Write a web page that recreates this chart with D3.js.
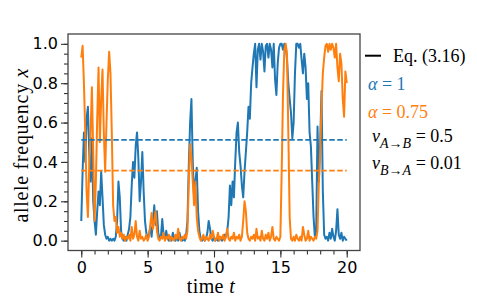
<!DOCTYPE html>
<html>
<head>
<meta charset="utf-8">
<script src="https://cdn.jsdelivr.net/npm/d3@7"></script>
<style>
  body { margin: 0; background: #fff; }
</style>
</head>
<body>
<svg id="chart" width="477" height="300"></svg>
<script>
// time grid step of the sampled trajectories
const dt = 0.1;

// alpha = 1 trajectory (one value every 0.1)
const blueSeries = [
  0.10, 0.35, 0.55, 0.40, 0.62, 0.68, 0.45, 0.30, 0.52, 0.20,
  0.10, 0.03, 0.15, 0.25, 0.18, 0.35, 0.22, 0.08, 0.03, 0.01,
  0.02, 0.00, 0.01, 0.00, 0.01, 0.00, 0.02, 0.10, 0.30, 0.22,
  0.05, 0.01, 0.00, 0.02, 0.00, 0.03, 0.06, 0.12, 0.28, 0.40,
  0.32, 0.48, 0.55, 0.42, 0.20, 0.30, 0.45, 0.25, 0.10, 0.04,
  0.01, 0.03, 0.07, 0.02, 0.10, 0.18, 0.08, 0.15, 0.04, 0.01,
  0.02, 0.11, 0.03, 0.01, 0.05, 0.01, 0.00, 0.02, 0.00, 0.04,
  0.01, 0.00, 0.02, 0.00, 0.04, 0.01, 0.00, 0.01, 0.00, 0.03,
  0.10, 0.38, 0.60, 0.72, 0.40, 0.22, 0.30, 0.37, 0.15, 0.05,
  0.01, 0.00, 0.02, 0.00, 0.01, 0.04, 0.10, 0.06, 0.01, 0.00,
  0.02, 0.00, 0.01, 0.00, 0.02, 0.01, 0.00, 0.01, 0.03, 0.02,
  0.05, 0.12, 0.28, 0.18, 0.30, 0.22, 0.40, 0.55, 0.60, 0.45,
  0.38, 0.28, 0.22, 0.35, 0.45, 0.55, 0.68, 0.62, 0.80, 0.88,
  0.95, 1.00, 0.78, 0.97, 1.00, 0.92, 1.00, 0.96, 0.86, 0.99,
  1.00, 0.93, 1.00, 0.97, 0.88, 1.00, 0.82, 0.74, 0.90, 0.98,
  1.00, 1.00, 0.97, 1.00, 0.99, 0.92, 0.80, 0.72, 0.65, 0.52,
  0.60, 0.85, 1.00, 1.00, 0.98, 1.00, 0.92, 0.85, 0.95, 0.88,
  0.72, 0.80, 0.55, 0.48, 0.30, 0.12, 0.02, 0.05, 0.58, 0.30,
  0.50, 0.76, 0.25, 0.03, 0.01, 0.02, 0.00, 0.04, 0.01, 0.06,
  0.02, 0.00, 0.05, 0.16, 0.03, 0.01, 0.04, 0.00, 0.02, 0.01,
  0.00
];

// alpha = 0.75 trajectory
const orangeSeries = [
  0.93, 0.99, 0.80, 0.55, 0.25, 0.12, 0.38, 0.55, 0.78, 0.45,
  0.10, 0.30, 0.62, 0.88, 0.50, 0.72, 0.87, 0.55, 0.35, 0.60,
  0.82, 0.96, 0.85, 0.55, 0.18, 0.10, 0.12, 0.04, 0.07, 0.02,
  0.04, 0.01, 0.03, 0.00, 0.02, 0.01, 0.03, 0.00, 0.07, 0.01,
  0.03, 0.10, 0.02, 0.00, 0.05, 0.01, 0.02, 0.00, 0.01, 0.03,
  0.00, 0.02, 0.08, 0.14, 0.06, 0.10, 0.15, 0.05, 0.01, 0.00,
  0.02, 0.01, 0.04, 0.00, 0.02, 0.01, 0.03, 0.00, 0.02, 0.01,
  0.00, 0.03, 0.01, 0.06, 0.01, 0.00, 0.02, 0.01, 0.03, 0.01,
  0.05, 0.30, 0.49, 0.42, 0.30, 0.18, 0.30, 0.12, 0.05, 0.02,
  0.00, 0.01, 0.03, 0.00, 0.02, 0.01, 0.00, 0.03, 0.01, 0.05,
  0.02, 0.00, 0.01, 0.04, 0.00, 0.02, 0.01, 0.03, 0.00, 0.02,
  0.06, 0.01, 0.00, 0.02, 0.01, 0.04, 0.00, 0.02, 0.01, 0.03,
  0.00, 0.02, 0.10, 0.20, 0.15, 0.04, 0.01, 0.00, 0.02, 0.01,
  0.03, 0.00, 0.06, 0.01, 0.02, 0.00, 0.05, 0.01, 0.00, 0.03,
  0.01, 0.04, 0.00, 0.02, 0.07, 0.01, 0.00, 0.02, 0.01, 0.00,
  0.02, 0.35, 0.75, 0.97, 1.00, 0.95, 0.55, 0.12, 0.01, 0.00,
  0.02, 0.00, 0.03, 0.01, 0.00, 0.02, 0.00, 0.07, 0.03, 0.00,
  0.01, 0.05, 0.00, 0.02, 0.01, 0.00, 0.02, 0.01, 0.05, 0.30,
  0.45, 0.68, 0.85, 0.93, 0.99, 1.00, 0.96, 1.00, 0.97, 1.00,
  0.98, 0.93, 1.00, 0.88, 0.81, 0.95, 0.90, 0.72, 0.63, 0.86,
  0.80
];

// Eq. (3.16) stationary values
const blueMean = 0.512;
const orangeMean = 0.356;

const xTicks = [0, 5, 10, 15, 20];
const yTicks = [0.0, 0.2, 0.4, 0.6, 0.8, 1.0];

const blue = "#1f77b4";
const orange = "#ff7f0e";

var svg = d3.select("#chart");
var plotL = 68, plotR = 360, plotT = 34, plotB = 250.5;

var x = d3.scaleLinear().domain([-1, 21]).range([plotL, plotR]);
var y = d3.scaleLinear().domain([-0.05, 1.05]).range([plotB, plotT]);

const times = blueSeries.map((_, i) => i * dt);

var line = d3.line()
    .x((d, i) => x(times[i]))
    .y(d => y(d));

// trajectories
svg.append("path")
    .datum(blueSeries)
    .attr("d", line)
    .style("fill", "none")
    .style("stroke", blue)
    .style("stroke-width", 2)
    .style("stroke-linejoin", "round");

svg.append("path")
    .datum(orangeSeries)
    .attr("d", line)
    .style("fill", "none")
    .style("stroke", orange)
    .style("stroke-width", 2)
    .style("stroke-linejoin", "round");

// dashed stationary levels
[[blueMean, blue], [orangeMean, orange]].forEach(function(m) {
    svg.append("line")
        .attr("x1", x(0))
        .attr("x2", x(20))
        .attr("y1", y(m[0]))
        .attr("y2", y(m[0]))
        .style("stroke", m[1])
        .style("stroke-width", 1.6)
        .style("stroke-dasharray", "5.5,2.5");
});

// axes
var xAxis = d3.axisBottom(x).tickValues(xTicks).tickSize(7).tickPadding(4).tickFormat(d3.format("d"));
var xMinor = d3.axisBottom(x).tickValues(d3.range(0, 21, 1)).tickSize(4).tickFormat("");
var yAxis = d3.axisLeft(y).tickValues(yTicks).tickSize(7).tickPadding(3).tickFormat(d3.format(".1f"));
var yMinor = d3.axisLeft(y).tickValues(d3.range(0, 1.0001, 0.05)).tickSize(4).tickFormat("");

svg.append("g").attr("transform", "translate(0," + plotB + ")").call(xMinor);
svg.append("g").attr("transform", "translate(0," + plotB + ")").call(xAxis);
svg.append("g").attr("transform", "translate(" + plotL + ",0)").call(yMinor);
svg.append("g").attr("transform", "translate(" + plotL + ",0)").call(yAxis);

svg.selectAll(".domain").remove();
svg.selectAll(".tick line").style("stroke", "#333").style("stroke-width", 1.1);
svg.selectAll(".tick text")
    .style("font-family", "DejaVu Sans")
    .style("font-size", "16px")
    .style("fill", "#000");

// frame
svg.append("rect")
    .attr("x", plotL)
    .attr("y", plotT)
    .attr("width", plotR - plotL)
    .attr("height", plotB - plotT)
    .style("fill", "none")
    .style("stroke", "#444")
    .style("stroke-width", 1.3);

// axis labels
var serif = "Liberation Serif";
var xl = svg.append("text")
    .attr("x", 211)
    .attr("y", 293)
    .attr("text-anchor", "middle")
    .style("font-family", serif)
    .style("font-size", "20px")
    .style("letter-spacing", "0.4px");
xl.append("tspan").text("time ");
xl.append("tspan").style("font-style", "italic").text("t");

var yl = svg.append("text")
    .attr("transform", "translate(28," + ((plotT + plotB) / 2 + 3) + ") rotate(-90)")
    .attr("text-anchor", "middle")
    .style("font-family", serif)
    .style("font-size", "20px")
    .style("letter-spacing", "0.7px");
yl.append("tspan").text("allele frequency ");
yl.append("tspan").style("font-style", "italic").text("x");

// legend
svg.append("line")
    .attr("x1", 365).attr("x2", 381)
    .attr("y1", 55.7).attr("y2", 55.7)
    .style("stroke", "#000")
    .style("stroke-width", 2);

svg.append("text")
    .attr("x", 393).attr("y", 62)
    .style("font-family", serif)
    .style("font-size", "18px")
    .text("Eq. (3.16)");

function alphaLabel(yPos, val, color) {
    var t = svg.append("text")
        .attr("x", 368).attr("y", yPos)
        .style("font-family", serif)
        .style("font-size", "18px")
        .style("fill", color);
    t.append("tspan").style("font-style", "italic").text("α");
    t.append("tspan").text(" = " + val);
}
alphaLabel(90, "1", blue);
alphaLabel(118, "0.75", orange);

function nuLabel(yPos, sub, val) {
    var t = svg.append("text")
        .attr("x", 372).attr("y", yPos)
        .style("font-family", serif)
        .style("font-size", "18px");
    t.append("tspan").style("font-style", "italic").text("ν");
    var s = t.append("tspan").attr("dy", 6).style("font-size", "14px");
    s.append("tspan").style("font-style", "italic").text(sub[0]);
    s.append("tspan").text("→");
    s.append("tspan").style("font-style", "italic").text(sub[1]);
    t.append("tspan").attr("dy", -6).text(" = " + val);
}
nuLabel(142, ["A", "B"], "0.5");
nuLabel(169, ["B", "A"], "0.01");
</script>
</body>
</html>
